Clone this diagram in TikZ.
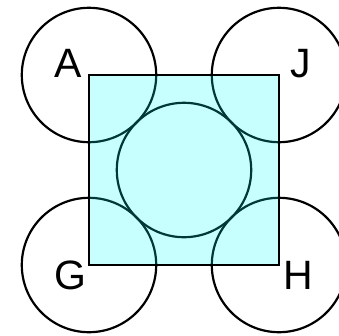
\documentclass[tikz,border=0pt]{standalone}
\usepackage{fontspec}
\setmainfont{Liberation Sans}
\definecolor{aqua}{RGB}{0,255,255}
\begin{document}
\begin{tikzpicture}[x=1pt,y=-1pt,
  ring/.style={circle,draw=black,line width=2.2pt,minimum size=134.4pt,inner sep=0pt},
  sq/.style={rectangle,draw=black,line width=2.2pt,fill=aqua,fill opacity=0.22,minimum size=190pt,inner sep=0pt},
  lab/.style={inner sep=0pt,font=\fontsize{41}{41}\selectfont}]
\useasboundingbox (0,0) rectangle (339,335);
\node[ring] (cA) at (89,75) {};
\node[ring] (cJ) at (279,75) {};
\node[ring] (cG) at (89,265) {};
\node[ring] (cH) at (279,265) {};
\node[ring] (cC) at (184,170) {};
\node[sq] (S) at (184,170) {};
\node[lab] (A) at (68.5,63.5) {A};
\node[lab] (J) at (300.5,64) {J};
\node[lab] (G) at (70,275.5) {G};
\node[lab] (H) at (298,275.5) {H};
\end{tikzpicture}
\end{document}
